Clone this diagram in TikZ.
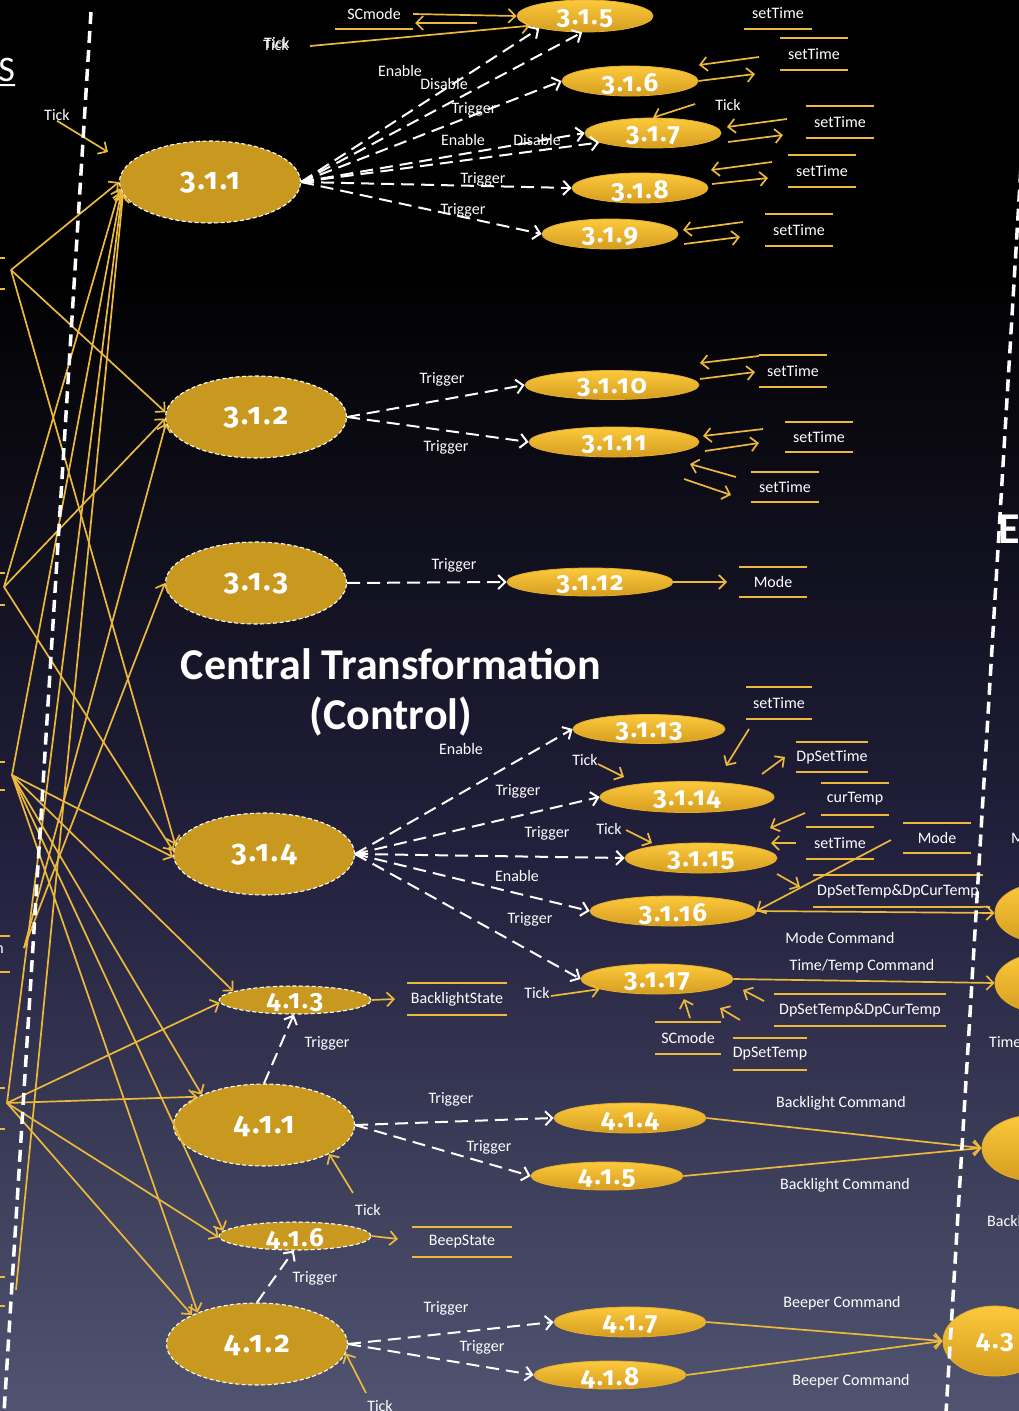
\documentclass[tikz,border=0pt]{standalone}
\usepackage{fontspec}
\setmainfont{Carlito}
\newfontfamily\numfont[Numbers=OldStyle,LetterSpace=7]{Fira Sans}
\usetikzlibrary{arrows.meta,shapes.geometric}

\definecolor{gold}{RGB}{236,185,60}
\definecolor{procfill}{RGB}{201,152,30}
\definecolor{goldtop}{RGB}{252,201,60}
\definecolor{goldbot}{RGB}{214,157,32}
\definecolor{goldedge}{RGB}{228,174,46}
\definecolor{bgmid}{RGB}{34,32,60}
\definecolor{bgbot}{RGB}{80,84,112}

\begin{document}
\begin{tikzpicture}[x=1pt,y=-1pt,
  txt/.style={text=white,inner sep=0pt,font=\fontsize{16}{18}\selectfont},
  titletxt/.style={text=white,inner sep=0pt,font=\bfseries\fontsize{44}{46}\selectfont},
  biglbl/.style={text=white,inner sep=0pt,font=\numfont\bfseries\fontsize{30}{32}\selectfont},
  smalllbl/.style={text=white,inner sep=0pt,font=\numfont\bfseries\fontsize{26}{28}\selectfont},
  bigproc/.style={ellipse,fill=procfill,draw=white,line width=1.1pt,dash pattern=on 4pt off 2.5pt,inner sep=0pt,minimum width=181,minimum height=82},
  midproc/.style={bigproc,minimum width=152,minimum height=28},
  gproc/.style={ellipse,top color=goldtop,bottom color=goldbot,draw=goldedge,line width=0.8pt,inner sep=0pt,minimum width=152,minimum height=30},
  store/.style={txt,minimum height=31,minimum width=#1},
  storeline/.style={draw=gold,line width=1.8pt},
  flow/.style={draw=gold,line width=1.7pt,-{Straight Barb[length=7pt,width=14pt]}},
  ctl/.style={draw=white,line width=2pt,dash pattern=on 13pt off 7pt,-{Straight Barb[length=7pt,width=14pt]}},
  bound/.style={draw=white,line width=3.5pt,dash pattern=on 12pt off 7pt}
]
\useasboundingbox (0,0) rectangle (1019,1411);
\clip (0,0) rectangle (1019,1411);

% background gradient
\fill[black] (0,0) rectangle (1019,262);
\shade[top color=black,bottom color=bgmid] (0,260) rectangle (1019,850);
\shade[top color=bgmid,bottom color=bgbot] (0,849) rectangle (1019,1411);

% ---------------- processes ----------------
\node[bigproc,label={[biglbl,yshift=-1pt]center:3.1.1}] (p311) at (210,182) {};
\node[bigproc,label={[biglbl,yshift=-1pt]center:3.1.2}] (p312) at (256,417) {};
\node[bigproc,label={[biglbl,yshift=-1pt]center:3.1.3}] (p313) at (256,583) {};
\node[bigproc,label={[biglbl,yshift=-1pt]center:3.1.4}] (p314) at (264,854) {};
\node[bigproc,label={[biglbl,yshift=-1pt]center:4.1.1}] (p411) at (264,1125) {};
\node[bigproc,label={[biglbl,yshift=-1pt]center:4.1.2}] (p412) at (257,1344) {};
\node[midproc,label={[smalllbl,yshift=-3pt]center:4.1.3}] (p413) at (295,1000) {};
\node[midproc,label={[smalllbl,yshift=-3pt]center:4.1.6}] (p416) at (295,1236) {};

\node[gproc,minimum width=136,minimum height=32,label={[smalllbl,yshift=-3pt]center:3.1.5}] (p315) at (585,16) {};
\node[gproc,minimum width=136,label={[smalllbl,yshift=-3pt]center:3.1.6}] (p316) at (630,81) {};
\node[gproc,minimum width=136,label={[smalllbl,yshift=-3pt]center:3.1.7}] (p317) at (653,133) {};
\node[gproc,minimum width=136,label={[smalllbl,yshift=-3pt]center:3.1.8}] (p318) at (640,188) {};
\node[gproc,minimum width=136,label={[smalllbl,yshift=-3pt]center:3.1.9}] (p319) at (610,234) {};
\node[gproc,minimum width=174,minimum height=29,label={[smalllbl,yshift=-3pt]center:3.1.10}] (p3110) at (612,385) {};
\node[gproc,minimum width=170,label={[smalllbl,yshift=-3pt]center:3.1.11}] (p3111) at (614,442) {};
\node[gproc,minimum width=166,minimum height=28,label={[smalllbl,yshift=-3pt]center:3.1.12}] (p3112) at (590,582) {};
\node[gproc,minimum height=29,label={[smalllbl,yshift=-3pt]center:3.1.13}] (p3113) at (649,729) {};
\node[gproc,minimum width=174,minimum height=31,label={[smalllbl,yshift=-3pt]center:3.1.14}] (p3114) at (687,797) {};
\node[gproc,label={[smalllbl,yshift=-3pt]center:3.1.15}] (p3115) at (701,858) {};
\node[gproc,minimum width=166,label={[smalllbl,yshift=-3pt]center:3.1.16}] (p3116) at (673,911) {};
\node[gproc,label={[smalllbl,yshift=-3pt]center:3.1.17}] (p3117) at (657,979) {};
\node[gproc,label={[smalllbl,yshift=-3pt]center:4.1.4}] (p414) at (630,1118) {};
\node[gproc,minimum height=28,label={[smalllbl,yshift=-3pt]center:4.1.5}] (p415) at (607,1176) {};
\node[gproc,label={[smalllbl,yshift=-3pt]center:4.1.7}] (p417) at (630,1322) {};
\node[gproc,minimum height=28,label={[smalllbl,yshift=-3pt]center:4.1.8}] (p418) at (610,1375) {};

% external processes at the right border
\node[gproc,minimum width=100,minimum height=60] (e1) at (1045,913) {};
\node[gproc,minimum width=100,minimum height=60] (e2) at (1045,983) {};
\node[gproc,minimum width=106,minimum height=66] (e3) at (1035,1148) {};
\node[gproc,minimum width=104,minimum height=70,label={[smalllbl,yshift=-2pt]center:4.3}] (e43) at (995,1341) {};

% ---------------- data stores ----------------
\node[store=78,minimum height=29] (sc1) at (374,14) {SCmode};
\node[store=67] (st1) at (778,13) {setTime};
\node[store=67] (st2) at (814,54) {setTime};
\node[store=67] (st3) at (840,122) {setTime};
\node[store=67] (st4) at (822,171) {setTime};
\node[store=67] (st5) at (799,230) {setTime};
\node[store=68] (st6) at (793,371) {setTime};
\node[store=67,minimum height=30] (st7) at (819,437) {setTime};
\node[store=67,minimum height=30] (st8) at (785,487) {setTime};
\node[store=67,minimum height=30] (md1) at (773,582) {Mode};
\node[store=66] (st9) at (779,703) {setTime};
\node[store=67,minimum height=30] (dst) at (832,757) {DpSetTime};
\node[store=67] (ctp) at (855,799) {curTemp};
\node[store=67] (st10) at (840,843) {setTime};
\node[store=67,minimum height=30] (md2) at (937,838) {Mode};
\node[store=169] (dpc1) at (898,891) {DpSetTemp\&DpCurTemp};
\node[store=99] (bls) at (457,999) {BacklightState};
\node[store=171] (dpc2) at (860,1010) {DpSetTemp\&DpCurTemp};
\node[store=66] (scm2) at (688,1038) {SCmode};
\node[store=66] (dps) at (770,1054) {DpSetTemp};
\node[store=99,minimum height=30] (bps) at (462,1242) {BeepState};
\foreach \s in {sc1,st1,st2,st3,st4,st5,st6,st7,st8,md1,st9,dst,ctp,st10,md2,dpc1,bls,dpc2,scm2,dps,bps}
  \draw[storeline] (\s.north west) -- (\s.north east) (\s.south west) -- (\s.south east);

% stores cut off at the left border
\foreach \ya/\yb in {258/289,573/605,762/790,1088/1129,1277/1306}
  \draw[storeline] (0,\ya) -- (5,\ya) (0,\yb) -- (5,\yb);
\draw[storeline] (0,936) -- (10,936) (0,972) -- (10,972);
\node[txt,anchor=east] (ncut) at (4,950) {n};

% ---------------- labels ----------------
\node[txt] (l1) at (57,115) {Tick};
\node[txt] (l2) at (276,45) {Tick};
\node[txt] (l2b) at (277,43) {Tick};
\node[txt] (l3) at (400,71) {Enable};
\node[txt] (l4) at (444,84) {Disable};
\node[txt] (l5) at (474,109) {Trigger};
\node[txt] (l6) at (463,140) {Enable};
\node[txt] (l7) at (537,140) {Disable};
\node[txt] (l8) at (483,179) {Trigger};
\node[txt] (l9) at (463,210) {Trigger};
\node[txt] (l10) at (728,105) {Tick};
\node[txt] (l11) at (442,379) {Trigger};
\node[txt] (l12) at (446,447) {Trigger};
\node[txt] (l13) at (454,565) {Trigger};
\node[txt] (l14) at (461,749) {Enable};
\node[txt] (l15) at (585,760) {Tick};
\node[txt] (l16) at (518,791) {Trigger};
\node[txt] (l17) at (547,833) {Trigger};
\node[txt] (l18) at (609,829) {Tick};
\node[txt] (l19) at (517,876) {Enable};
\node[txt] (l20) at (530,919) {Trigger};
\node[txt] (l21) at (840,938) {Mode Command};
\node[txt] (l22) at (862,966) {Time/Temp Command};
\node[txt] (l23) at (537,993) {Tick};
\node[txt] (l24) at (327,1043) {Trigger};
\node[txt] (l25) at (451,1099) {Trigger};
\node[txt] (l26) at (489,1147) {Trigger};
\node[txt] (l27) at (368,1210) {Tick};
\node[txt] (l28) at (841,1103) {Backlight Command};
\node[txt] (l29) at (845,1185) {Backlight Command};
\node[txt] (l30) at (315,1278) {Trigger};
\node[txt] (l31) at (446,1308) {Trigger};
\node[txt] (l32) at (482,1347) {Trigger};
\node[txt] (l33) at (380,1406) {Tick};
\node[txt] (l34) at (842,1303) {Beeper Command};
\node[txt] (l35) at (851,1381) {Beeper Command};
\node[txt,anchor=west] (l36) at (1011,838) {Mode};
\node[txt,anchor=west] (l37) at (989,1042) {Time};
\node[txt,anchor=west] (l38) at (987,1222) {Backlight};
\node[titletxt] (title1) at (391,664) {Central Transformation};
\node[titletxt] (title2) at (391,716) {(Control)};
\node[titletxt,anchor=west] (title3) at (998,529) {E};
\node[text=white,inner sep=0pt,font=\fontsize{36}{38}\selectfont,anchor=east] (title4) at (15,70) {S};
\draw[white,line width=2pt] (title4.south west) ++(0,3) -- (15,85);

% ---------------- free ends of flows ----------------
\coordinate (sA) at (11,270);  \coordinate (sD) at (4,587);
\coordinate (sB) at (12,775);  \coordinate (sE) at (24,948);
\coordinate (sC) at (7,1103);  \coordinate (sF) at (16,1290);
\coordinate (c1) at (108,152); \coordinate (c2) at (310,46);
\coordinate (c3) at (477,23);  \coordinate (c4) at (415,23);
\coordinate (c5) at (759,57);  \coordinate (c6) at (699,65);  \coordinate (c7) at (755,74);
\coordinate (c8) at (695,104);
\coordinate (c9) at (787,119); \coordinate (c10) at (727,127);
\coordinate (c11) at (728,142); \coordinate (c12) at (783,135);
\coordinate (c13) at (772,162); \coordinate (c14) at (711,170);
\coordinate (c15) at (712,184); \coordinate (c16) at (768,178);
\coordinate (c17) at (743,222); \coordinate (c18) at (683,230);
\coordinate (c19) at (684,244); \coordinate (c20) at (740,237);
\coordinate (c21) at (759,356); \coordinate (c22) at (700,363);
\coordinate (c23) at (700,379); \coordinate (c24) at (755,372);
\coordinate (c25) at (763,429); \coordinate (c26) at (703,436);
\coordinate (c27) at (705,451); \coordinate (c28) at (759,443);
\coordinate (c29) at (736,477); \coordinate (c30) at (690,464);
\coordinate (c31) at (684,479); \coordinate (c32) at (731,495);
\coordinate (c33) at (727,582);
\coordinate (c34) at (749,729); \coordinate (c35) at (726,766);
\coordinate (c36) at (598,764); \coordinate (c37) at (624,777);
\coordinate (c38) at (762,774); \coordinate (c39) at (785,757);
\coordinate (c40) at (805,813); \coordinate (c41) at (770,828);
\coordinate (c42) at (796,843); \coordinate (c43) at (771,843);
\coordinate (c44) at (626,830); \coordinate (c45) at (652,843);
\coordinate (c46) at (891,840);
\coordinate (c47) at (777,874); \coordinate (c48) at (800,887);
\coordinate (c49) at (551,996);
\coordinate (c50) at (395,999);
\coordinate (c51) at (764,1001); \coordinate (c52) at (743,990);
\coordinate (c53) at (690,1018); \coordinate (c54) at (684,999);
\coordinate (c55) at (740,1020); \coordinate (c56) at (720,1008);
\coordinate (c57) at (353,1193);
\coordinate (c58) at (398,1239);
\coordinate (c59) at (366,1393);

% ---------------- flows from the left ----------------
\draw[flow] (sA) -- (p311.180);
\draw[flow] (sA) -- (p312.177);
\draw[flow] (sA) -- (p314.174);
\draw[flow] (sD) -- (p311.184);
\draw[flow] (sD) -- (p312.181);
\draw[flow] (sD) -- (p314.178);
\draw[flow] (sB) -- (p311.186);
\draw[flow] (sB) -- (p314.182);
\draw[flow] (sB) -- (p413.172);
\draw[flow] (sB) -- (p411.154);
\draw[flow] (sB) -- (p416.176);
\draw[flow] (sB) -- (p412.152);
\draw[flow] (sE) -- (p312.184);
\draw[flow] (sE) -- (p313.180);
\draw[flow] (sC) -- (p311.187);
\draw[flow] (sC) -- (p413.182);
\draw[flow] (sC) -- (p411.157);
\draw[flow] (sC) -- (p416.181);
\draw[flow] (sC) -- (p412.156);
\draw[flow] (sF) -- (p311.188);
\draw[flow] (l1.south) -- (c1);

% ---------------- flows on the right ----------------
\draw[flow] (sc1.east) -- (p315.west);
\draw[flow] (c3) -- (c4);
\draw[flow] (c2) -- (p315.190);
\draw[flow] (c5) -- (c6);
\draw[flow] (p316.east) -- (c7);
\draw[flow] (c8) -- (p317.north);
\draw[flow] (c9) -- (c10);   \draw[flow] (c11) -- (c12);
\draw[flow] (c13) -- (c14);  \draw[flow] (c15) -- (c16);
\draw[flow] (c17) -- (c18);  \draw[flow] (c19) -- (c20);
\draw[flow] (c21) -- (c22);  \draw[flow] (c23) -- (c24);
\draw[flow] (c25) -- (c26);  \draw[flow] (c27) -- (c28);
\draw[flow] (c29) -- (c30);  \draw[flow] (c31) -- (c32);
\draw[flow] (p3112.east) -- (c33);
\draw[flow] (c34) -- (c35);
\draw[flow] (c36) -- (c37);
\draw[flow] (c38) -- (c39);
\draw[flow] (c40) -- (c41);
\draw[flow] (c42) -- (c43);
\draw[flow] (c44) -- (c45);
\draw[flow] (c46) -- (p3116.east);
\draw[flow] (c47) -- (c48);
\draw[flow] (p3116.east) -- (e1.west);
\draw[storeline] (dpc1.south east) -- (990,907);
\draw[flow] (p3117.east) -- (e2.west);
\draw[flow] (c49) -- (p3117.190);
\draw[flow] (p413.east) -- (c50);
\draw[flow] (c51) -- (c52);
\draw[flow] (c53) -- (c54);
\draw[flow] (c55) -- (c56);
\draw[flow] (c57) -- (p411.-24);
\draw[flow] (p414.east) -- (e3.west);
\draw[flow] (p415.east) -- (e3.west);
\draw[flow] (p416.east) -- (c58);
\draw[flow] (c59) -- (p412.-6);
\draw[flow] (p417.east) -- (e43.west);
\draw[flow] (p418.east) -- (e43.west);

% ---------------- control flows ----------------
\draw[ctl] (p311.east) -- (p315.195);
\draw[ctl] (p311.east) -- (p315.260);
\draw[ctl] (p311.east) -- (p316.west);
\draw[ctl] (p311.east) -- (p317.west);
\draw[ctl] (p311.east) -- (p317.190);
\draw[ctl] (p311.east) -- (p318.west);
\draw[ctl] (p311.east) -- (p319.west);
\draw[ctl] (p312.east) -- (p3110.west);
\draw[ctl] (p312.east) -- (p3111.west);
\draw[ctl] (p313.east) -- (p3112.west);
\draw[ctl] (p314.east) -- (p3113.west);
\draw[ctl] (p314.east) -- (p3114.west);
\draw[ctl] (p314.east) -- (p3115.west);
\draw[ctl] (p314.east) -- (p3116.west);
\draw[ctl] (p314.east) -- (p3117.west);
\draw[ctl] (p411.north) -- (p413.265);
\draw[ctl] (p411.east) -- (p414.west);
\draw[ctl] (p411.east) -- (p415.west);
\draw[ctl] (p412.north) -- (p416.265);
\draw[ctl] (p412.east) -- (p417.west);
\draw[ctl] (p412.east) -- (p418.west);

% ---------------- boundaries ----------------
\coordinate (bl1) at (91,12);  \coordinate (bl2) at (4,1413);
\coordinate (br1) at (1031,0); \coordinate (br2) at (946,1413);
\draw[bound] (bl1) -- (bl2);
\draw[bound] (br1) -- (br2);
\end{tikzpicture}
\end{document}
